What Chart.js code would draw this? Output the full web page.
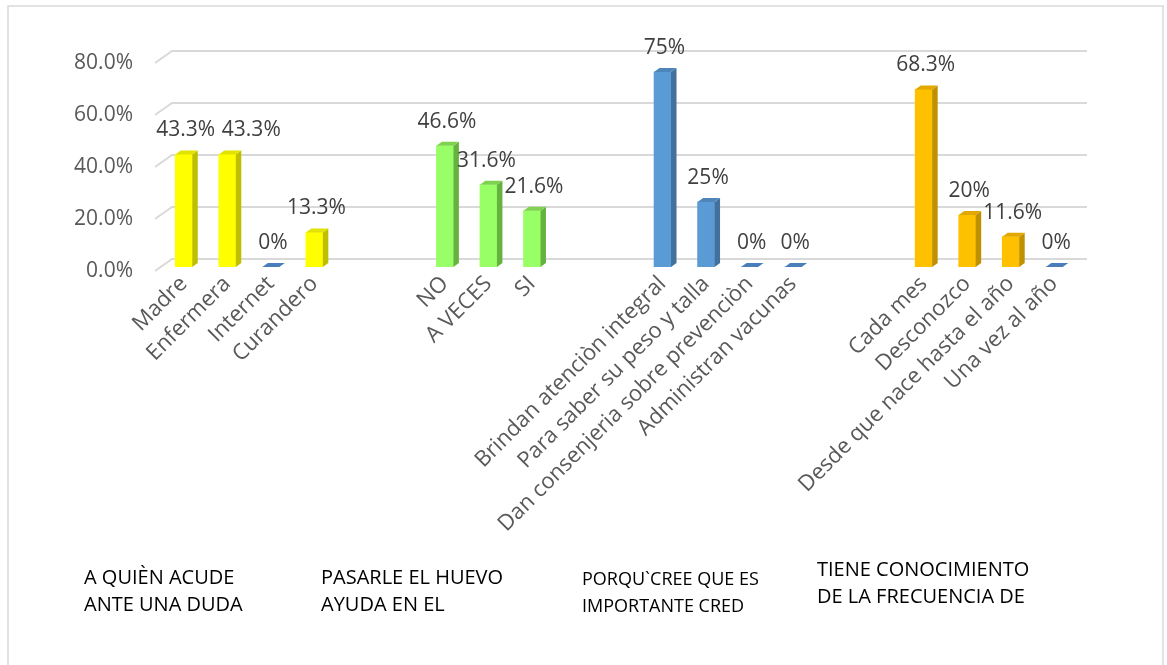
<!DOCTYPE html>
<html>
<head>
<meta charset="utf-8">
<script src="https://cdn.jsdelivr.net/npm/chart.js@4.4.0/dist/chart.umd.min.js"></script>
<style>
body{margin:0;background:#fff}
#wrap{position:relative;width:1167px;height:665px}
</style>
</head>
<body>
<div id="wrap"><canvas id="chart" width="1167" height="665"></canvas></div>
<script>
// four questions, blank slots between them as in the sheet
const quienCats = ['Madre', 'Enfermera', 'Internet', 'Curandero'];
const quienVals = [43.3, 43.3, 0, 13.3];
const huevoCats = ['NO', 'A VECES', 'SI'];
const huevoVals = [46.6, 31.6, 21.6];
const credCats = ['Brindan atenciòn integral', 'Para saber su peso y talla', 'Dan consenjeria sobre prevenciòn', 'Administran vacunas'];
const credVals = [75, 25, 0, 0];
const frecCats = ['Cada mes', 'Desconozco', 'Desde que nace hasta el año', 'Una vez al año'];
const frecVals = [68.3, 20, 11.6, 0];
const groupTitles = [
	['A QUIÈN ACUDE', 'ANTE UNA DUDA'],
	['PASARLE EL HUEVO', 'AYUDA EN EL'],
	['PORQU`CREE QUE ES', 'IMPORTANTE CRED'],
	['TIENE CONOCIMIENTO', 'DE LA FRECUENCIA DE']
];
const yMax = 80;
const yStep = 20;

const groups = [
	{cats: quienCats, vals: quienVals, front: '#FFFF00', side: '#BFBF00', top: '#E2E200'},
	{cats: huevoCats, vals: huevoVals, front: '#99FF66', side: '#66B23F', top: '#7ED24F'},
	{cats: credCats, vals: credVals, front: '#5B9BD5', side: '#41719C', top: '#4E86BA'},
	{cats: frecCats, vals: frecVals, front: '#FFC000', side: '#BF9000', top: '#E0A800'}
];

let labels = []
let datasets = []
groups.forEach((g, gi) => {
	if (gi > 0) labels.push('', '')
	const start = labels.length
	labels.push(...g.cats)
	datasets.push({g: g, start: start})
})
datasets = datasets.map(d => {
	const data = labels.map(() => null)
	d.g.vals.forEach((v, i) => data[d.start + i] = v)
	return {
		data: data,
		backgroundColor: d.g.front,
		sideColor: d.g.side,
		topColor: d.g.top,
		grouped: false,
		barThickness: 17,
		borderWidth: 0
	}
})

const DX = 5.5, DY = 4;
const zeroColor = '#4A7EBB';
const FONT = '"Open Sans", sans-serif';
// labels that were dragged sideways in the original
const labelNudge = {1: 22, 7: -4};

const gridPlugin = {
	id: 'grid3d',
	beforeDatasetsDraw(chart) {
		const ctx = chart.ctx, y = chart.scales.y, a = chart.chartArea;
		ctx.save();
		ctx.strokeStyle = '#D9D9D9';
		ctx.lineWidth = 2;
		for (let v = 0; v <= yMax; v += yStep) {
			const yf = y.getPixelForValue(v);
			ctx.beginPath();
			ctx.moveTo(a.left - 7, yf + 4);
			ctx.lineTo(a.left + 10, yf - 8);
			ctx.lineTo(a.right + 11, yf - 8);
			ctx.stroke();
		}
		ctx.restore();
	}
};

const barPlugin = {
	id: 'bar3d',
	afterDatasetsDraw(chart) {
		const ctx = chart.ctx;
		ctx.save();
		chart.data.datasets.forEach((ds, di) => {
			const meta = chart.getDatasetMeta(di);
			meta.data.forEach((bar, i) => {
				const v = ds.data[i];
				if (v === null) return;
				const w = bar.width, l = bar.x - w / 2, r = bar.x + w / 2;
				const top = bar.y, base = bar.base;
				if (v === 0) {
					ctx.fillStyle = zeroColor;
					ctx.beginPath();
					ctx.moveTo(l, base);
					ctx.lineTo(r, base);
					ctx.lineTo(r + DX, base - DY);
					ctx.lineTo(l + DX, base - DY);
					ctx.closePath();
					ctx.fill();
				} else {
					ctx.fillStyle = ds.sideColor;
					ctx.beginPath();
					ctx.moveTo(r, top);
					ctx.lineTo(r + DX, top - DY);
					ctx.lineTo(r + DX, base - DY);
					ctx.lineTo(r, base);
					ctx.closePath();
					ctx.fill();
					ctx.fillStyle = ds.topColor;
					ctx.beginPath();
					ctx.moveTo(l, top);
					ctx.lineTo(r, top);
					ctx.lineTo(r + DX, top - DY);
					ctx.lineTo(l + DX, top - DY);
					ctx.closePath();
					ctx.fill();
				}
				ctx.fillStyle = '#404040';
				ctx.font = '21px ' + FONT;
				ctx.textAlign = 'center';
				ctx.textBaseline = 'middle';
				ctx.fillText(v + '%', bar.x + 2 + (labelNudge[i] || 0), top - 24);
			});
		});
		ctx.restore();
	}
};

const framePlugin = {
	id: 'frame',
	afterDraw(chart) {
		const ctx = chart.ctx;
		ctx.save();
		ctx.strokeStyle = '#D9D9D9';
		ctx.lineWidth = 1.5;
		ctx.strokeRect(8, 6, 1155, 720);
		ctx.fillStyle = '#000';
		ctx.textAlign = 'left';
		ctx.textBaseline = 'middle';
		const xs = [84, 321, 582, 817];
		const ys = [578, 578, 580, 570];
		const sizes = [20, 20, 18, 20];
		groupTitles.forEach((lines, i) => {
			ctx.font = sizes[i] + 'px ' + FONT;
			lines.forEach((t, j) => ctx.fillText(t, xs[i], ys[i] + j * 27));
		});
		ctx.restore();
	}
};

new Chart(document.getElementById('chart'), {
	type: 'bar',
	data: {labels: labels, datasets: datasets},
	options: {
		responsive: false,
		animation: false,
		layout: {padding: {left: 0, top: 59, right: 91, bottom: 0}},
		plugins: {legend: {display: false}, tooltip: {enabled: false}},
		scales: {
			x: {
				grid: {display: false, drawTicks: false},
				border: {display: false},
				ticks: {
					autoSkip: false,
					maxRotation: 45,
					minRotation: 45,
					padding: 4,
					color: '#595959',
					font: {family: FONT, size: 22}
				},
				afterFit: s => { s.height = 398 }
			},
			y: {
				min: 0,
				max: yMax,
				grid: {display: false, drawTicks: false},
				border: {display: false},
				ticks: {
					stepSize: yStep,
					padding: 29,
					labelOffset: 4,
					color: '#595959',
					font: {family: FONT, size: 21},
					callback: v => v.toFixed(1) + '%'
				},
				afterFit: s => { s.width = 162 }
			}
		}
	},
	plugins: [gridPlugin, barPlugin, framePlugin]
});
</script>
</body>
</html>
